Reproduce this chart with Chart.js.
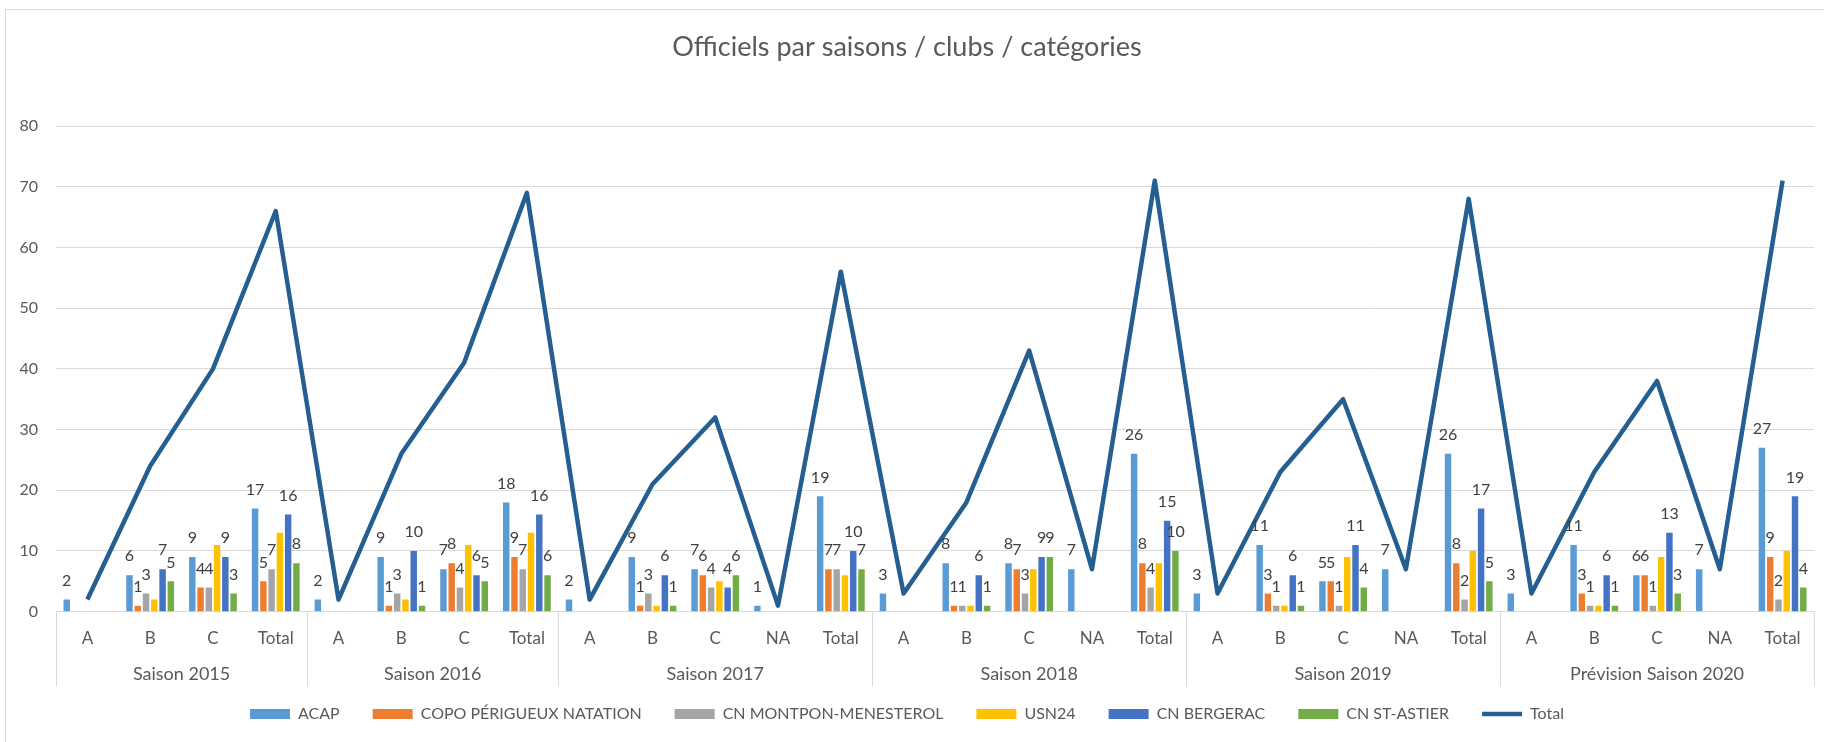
<!DOCTYPE html>
<html lang="fr">
<head>
<meta charset="utf-8">
<title>Officiels par saisons / clubs / catégories</title>
<script src="https://cdn.jsdelivr.net/npm/chart.js@4/dist/chart.umd.min.js"></script>
<style>
  html, body { margin: 0; padding: 0; background: #fff; overflow: hidden; }
  #wrap { position: relative; width: 1824px; height: 742px; }
  #frame { position: absolute; left: 5px; top: 9px; width: 1840px; height: 760px; border: 1px solid #d9d9d9; pointer-events: none; }
  canvas { position: absolute; left: 0; top: 0; }
</style>
</head>
<body>
<div id="wrap">
  <canvas id="chart-officiels" width="1824" height="742"></canvas>
  <div id="frame"></div>
</div>
<script>
'use strict';

// Seasons and the categories under each one (two-level category axis)
const groups = ['Saison 2015', 'Saison 2016', 'Saison 2017', 'Saison 2018', 'Saison 2019', 'Prévision Saison 2020'];
const groupCategories = [
  ['A', 'B', 'C', 'Total'],
  ['A', 'B', 'C', 'Total'],
  ['A', 'B', 'C', 'NA', 'Total'],
  ['A', 'B', 'C', 'NA', 'Total'],
  ['A', 'B', 'C', 'NA', 'Total'],
  ['A', 'B', 'C', 'NA', 'Total'],
];
const categories = groupCategories.flat();

// Officials per club (null = empty cell)
const acap     = [2, 6, 9, 17,       2, 9, 7, 18,        2, 9, 7, 1, 19,       3, 8, 8, 7, 26,       3, 11, 5, 7, 26,       3, 11, 6, 7, 27];
const copo     = [null, 1, 4, 5,     null, 1, 8, 9,      null, 1, 6, null, 7,  null, 1, 7, null, 8,  null, 3, 5, null, 8,  null, 3, 6, null, 9];
const montpon  = [null, 3, 4, 7,     null, 3, 4, 7,      null, 3, 4, null, 7,  null, 1, 3, null, 4,  null, 1, 1, null, 2,  null, 1, 1, null, 2];
const usn24    = [null, 2, 11, 13,   null, 2, 11, 13,    null, 1, 5, null, 6,  null, 1, 7, null, 8,  null, 1, 9, null, 10, null, 1, 9, null, 10];
const bergerac = [null, 7, 9, 16,    null, 10, 6, 16,    null, 6, 4, null, 10, null, 6, 9, null, 15, null, 6, 11, null, 17, null, 6, 13, null, 19];
const stAstier = [null, 5, 3, 8,     null, 1, 5, 6,      null, 1, 6, null, 7,  null, 1, 9, null, 10, null, 1, 4, null, 5,  null, 1, 3, null, 4];
const total    = [2, 24, 40, 66,     2, 26, 41, 69,      2, 21, 32, 1, 56,     3, 18, 43, 7, 71,     3, 23, 35, 7, 68,     3, 23, 38, 7, 71];

const yTicks = { min: 0, max: 80, step: 10 };

const FONT = 'Lato, "Open Sans", sans-serif';
const TEXT = '#595959';
const GRID = '#d9d9d9';

function barSet(label, data, color, showLabels) {
  return {
    type: 'bar', label, data, backgroundColor: color, borderWidth: 0,
    pointStyle: 'rect', order: 1, showLabels,
    categoryPercentage: 0.79, barPercentage: 0.78,
  };
}

// Excel style value labels above bars
const valueLabels = {
  id: 'valueLabels',
  afterDatasetsDraw(chart) {
    const { ctx } = chart;
    ctx.save();
    ctx.font = '16px ' + FONT;
    ctx.fillStyle = '#404040';
    ctx.textAlign = 'center';
    ctx.textBaseline = 'middle';
    chart.data.datasets.forEach((ds, i) => {
      if (!ds.showLabels) return;
      chart.getDatasetMeta(i).data.forEach((bar, j) => {
        const v = ds.data[j];
        if (v == null) return;
        ctx.fillText(String(v), bar.x, bar.y - 19);
      });
    });
    ctx.restore();
  }
};

// Second axis level: season names + separators
const seasonAxis = {
  id: 'seasonAxis',
  afterDraw(chart) {
    const { ctx } = chart;
    const x = chart.scales.x;
    const half = (x.getPixelForValue(1) - x.getPixelForValue(0)) / 2;
    const top = chart.chartArea.bottom;
    ctx.save();
    ctx.font = '18px ' + FONT;
    ctx.fillStyle = TEXT;
    ctx.textAlign = 'center';
    ctx.textBaseline = 'middle';
    ctx.strokeStyle = GRID;
    ctx.lineWidth = 1;
    let start = 0;
    const edges = [];
    groupCategories.forEach((cats, g) => {
      const left = x.getPixelForValue(start) - half;
      const right = x.getPixelForValue(start + cats.length - 1) + half;
      ctx.fillText(groups[g], (left + right) / 2, top + 62.5);
      edges.push(left);
      start += cats.length;
    });
    edges.push(x.right);
    edges.forEach(px => {
      const p = Math.round(px) + 0.5;
      ctx.beginPath();
      ctx.moveTo(p, top);
      ctx.lineTo(p, top + 74.5);
      ctx.stroke();
    });
    ctx.restore();
  }
};

const canvas = document.getElementById('chart-officiels');
new Chart(canvas, {
  data: {
    labels: categories,
    datasets: [
      barSet('ACAP', acap, '#5B9BD5', true),
      barSet('COPO PÉRIGUEUX NATATION', copo, '#ED7D31', true),
      barSet('CN MONTPON-MENESTEROL', montpon, '#A5A5A5', true),
      barSet('USN24', usn24, '#FFC000', false),
      barSet('CN BERGERAC', bergerac, '#4472C4', true),
      barSet('CN ST-ASTIER', stAstier, '#70AD47', true),
      {
        type: 'line', label: 'Total', data: total,
        borderColor: '#255E91', backgroundColor: '#255E91', borderWidth: 4.5,
        borderJoinStyle: 'round', tension: 0, pointRadius: 0, pointStyle: 'line', order: 0,
      },
    ]
  },
  options: {
    responsive: false, animation: false,
    layout: { padding: { left: 0, right: 10, top: 0, bottom: 10 } },
    plugins: {
      title: {
        display: true, text: 'Officiels par saisons / clubs / catégories',
        color: TEXT, font: { family: FONT, size: 27, weight: 'normal' },
        padding: { top: 30.8, bottom: 62.8 },
      },
      legend: {
        position: 'bottom', maxHeight: 59,
        labels: {
          color: TEXT, font: { family: FONT, size: 16 },
          usePointStyle: true, pointStyleWidth: 40, boxHeight: 10, padding: 33,
          sort: (a, b) => a.datasetIndex - b.datasetIndex,
        }
      },
      tooltip: { enabled: false },
    },
    scales: {
      x: {
        grid: { display: false }, border: { display: false },
        ticks: { color: TEXT, font: { family: FONT, size: 17 }, padding: 9.1, autoSkip: false, maxRotation: 0 },
        afterFit: s => { s.height = 61.3; },
      },
      y: {
        min: yTicks.min, max: yTicks.max,
        grid: { color: GRID, drawTicks: false }, border: { display: false },
        ticks: { stepSize: yTicks.step, color: TEXT, font: { family: FONT, size: 16 }, padding: 18 },
        afterFit: s => { s.width = 56; },
      }
    }
  },
  plugins: [valueLabels, seasonAxis],
});
</script>
</body>
</html>
